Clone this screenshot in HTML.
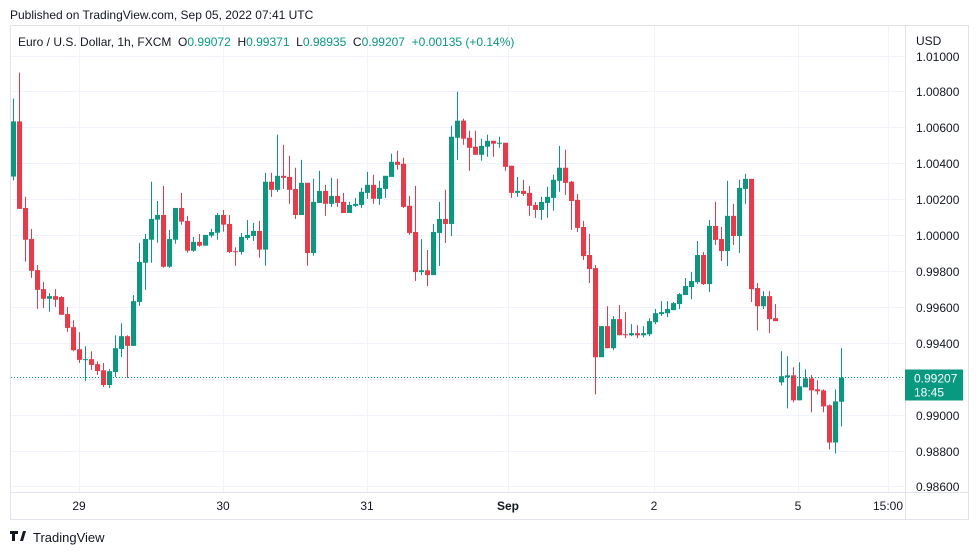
<!DOCTYPE html>
<html><head><meta charset="utf-8"><style>
html,body{margin:0;padding:0;background:#fff;width:979px;height:555px;overflow:hidden;font-family:"Liberation Sans",sans-serif}
svg{position:absolute;left:0;top:0}
</style></head><body>
<svg id="chart" width="979" height="555"></svg>
<script>
const dayLabels=["29","30","31","Sep","2","5","15:00"];
const dayLabelX=[79,223,367,508,654,798,888];
const priceTicks=[1.01,1.008,1.006,1.004,1.002,1.0,0.998,0.996,0.994,0.992,0.990,0.988,0.986];
const opens=[1.00326,1.00633,1.00151,0.99978,0.99805,0.99699,0.99645,0.99660,0.99655,0.99560,0.99487,0.99364,0.99305,0.99309,0.99281,0.99247,0.99165,0.99238,0.99366,0.99437,0.99383,0.99628,0.99846,0.99974,1.00086,1.00112,0.99824,0.99974,1.00151,1.00079,0.99913,0.99962,0.99941,0.99997,1.00013,1.00112,1.00062,0.99910,0.99906,0.99984,0.99995,1.00023,0.99919,1.00297,1.00252,1.00330,1.00324,1.00257,1.00112,1.00291,0.99900,1.00179,1.00246,1.00174,1.00218,1.00185,1.00123,1.00163,1.00168,1.00235,1.00280,1.00202,1.00257,1.00324,1.00408,1.00397,1.00163,1.00017,0.99794,0.99804,0.99777,1.00012,1.00090,1.00062,1.00542,1.00637,1.00542,1.00492,1.00447,1.00492,1.00525,1.00510,1.00514,1.00386,1.00235,1.00246,1.00235,1.00168,1.00140,1.00179,1.00207,1.00302,1.00375,1.00297,1.00196,1.00045,0.99889,0.99816,0.99320,0.99493,0.99370,0.99532,0.99448,0.99442,0.99454,0.99442,0.99448,0.99515,0.99560,0.99565,0.99582,0.99616,0.99666,0.99710,0.99738,0.99889,0.99727,1.00051,0.99978,0.99911,1.00107,0.99995,1.00257,1.00313,0.99705,0.99604,0.99660,0.99537,0.99180,0.99208,0.99219,0.99080,0.99152,0.99202,0.99141,0.99135,0.99052,0.98845,0.99072];
const highs=[1.00760,1.00905,1.00213,1.00034,0.99833,0.99738,0.99677,0.99699,0.99660,0.99600,0.99526,0.99459,0.99381,0.99353,0.99297,0.99288,0.99254,0.99442,0.99509,0.99442,0.99666,0.99956,1.00006,1.00297,1.00190,1.00274,1.00029,1.00151,1.00235,1.00107,0.99990,1.00006,1.00001,1.00034,1.00123,1.00140,1.00112,0.99932,1.00012,1.00084,1.00068,1.00079,1.00347,1.00347,1.00559,1.00503,1.00442,1.00375,1.00419,1.00291,1.00313,1.00358,1.00280,1.00319,1.00313,1.00235,1.00185,1.00207,1.00263,1.00352,1.00336,1.00302,1.00330,1.00453,1.00470,1.00431,1.00218,1.00274,0.99978,0.99917,1.00062,1.00185,1.00252,1.00609,1.00799,1.00648,1.00581,1.00581,1.00537,1.00559,1.00525,1.00548,1.00514,1.00386,1.00324,1.00308,1.00274,1.00185,1.00213,1.00269,1.00336,1.00497,1.00475,1.00302,1.00229,1.00079,1.00006,0.99833,0.99493,0.99604,0.99549,0.99610,0.99571,0.99504,0.99498,0.99493,0.99537,0.99589,0.99632,0.99632,0.99627,0.99677,0.99761,0.99794,0.99967,0.99906,1.00084,1.00185,1.00045,1.00302,1.00174,1.00308,1.00341,1.00313,0.99733,0.99688,0.99688,0.99616,0.99353,0.99325,0.99264,0.99292,0.99253,0.99221,0.99191,0.99141,0.99057,0.99141,0.99371];
const lows=[1.00304,1.00146,0.99852,0.99762,0.99589,0.99595,0.99573,0.99600,0.99556,0.99461,0.99353,0.99288,0.99187,0.99249,0.99221,0.99154,0.99148,0.99210,0.99321,0.99204,0.99383,0.99606,0.99695,0.99846,0.99958,0.99818,0.99818,0.99952,1.00058,0.99902,0.99907,0.99935,0.99941,0.99986,0.99974,1.00019,0.99900,0.99829,0.99891,0.99973,0.99967,0.99874,0.99829,1.00213,1.00241,1.00257,1.00174,1.00090,1.00112,0.99829,0.99885,1.00179,1.00107,1.00157,1.00157,1.00123,1.00123,1.00157,1.00151,1.00202,1.00174,1.00168,1.00207,1.00324,1.00364,1.00151,1.00001,0.99744,0.99777,0.99716,0.99777,0.99828,0.99956,0.99995,1.00419,1.00503,1.00358,1.00447,1.00414,1.00436,1.00436,1.00486,1.00358,1.00207,1.00213,1.00218,1.00107,1.00096,1.00084,1.00096,1.00135,1.00241,1.00224,1.00029,1.00017,0.99861,0.99733,0.99113,0.99320,0.99370,0.99359,0.99442,0.99426,0.99437,0.99426,0.99431,0.99437,0.99504,0.99549,0.99543,0.99582,0.99588,0.99666,0.99643,0.99727,0.99722,0.99683,0.99945,0.99856,0.99828,0.99945,0.99900,1.00174,0.99627,0.99470,0.99588,0.99454,0.99521,0.99163,0.99035,0.99069,0.99080,0.99152,0.99013,0.99113,0.99013,0.98806,0.98784,0.98935];
const closes=[1.00633,1.00146,0.99974,0.99801,0.99695,0.99645,0.99660,0.99640,0.99556,0.99483,0.99359,0.99305,0.99309,0.99277,0.99243,0.99165,0.99242,0.99370,0.99437,0.99383,0.99632,0.99850,0.99978,1.00090,1.00112,0.99824,0.99978,1.00151,1.00075,0.99913,0.99962,0.99941,1.00001,1.00017,1.00112,1.00058,0.99906,0.99906,0.99990,1.00001,1.00023,0.99919,1.00297,1.00252,1.00330,1.00319,1.00252,1.00112,1.00291,0.99900,1.00185,1.00246,1.00174,1.00218,1.00179,1.00123,1.00168,1.00174,1.00241,1.00280,1.00202,1.00263,1.00330,1.00408,1.00391,1.00157,1.00012,0.99794,0.99804,0.99777,1.00017,1.00090,1.00062,1.00548,1.00637,1.00537,1.00486,1.00447,1.00497,1.00525,1.00509,1.00514,1.00380,1.00235,1.00246,1.00229,1.00163,1.00140,1.00185,1.00213,1.00308,1.00375,1.00291,1.00190,1.00040,0.99883,0.99811,0.99320,0.99493,0.99370,0.99532,0.99442,0.99442,0.99454,0.99442,0.99454,0.99521,0.99565,0.99571,0.99588,0.99621,0.99671,0.99716,0.99744,0.99889,0.99727,1.00051,0.99973,0.99911,1.00107,0.99995,1.00263,1.00313,0.99699,0.99604,0.99660,0.99532,0.99521,0.99214,0.99219,0.99080,0.99158,0.99202,0.99135,0.99130,0.99046,0.98845,0.99074,0.99207];
const lastPrice=0.99207;

const NS="http://www.w3.org/2000/svg";
const svg=document.getElementById('chart');
function yOf(p){return 55.5+(1.01-p)*17958;}
function xOf(i){return 13.3+i*6;}
function mk(tag,attrs,parent){const e=document.createElementNS(NS,tag);for(const k in attrs)e.setAttribute(k,attrs[k]);(parent||svg).appendChild(e);return e;}
const green="#089981",red="#f23645",grid="#f0f3fa",txt="#131722";

// frame
const frame=mk('rect',{x:10.5,y:25.5,width:958,height:494,fill:'none',stroke:'#e0e3eb'});



// horizontal grid + price labels
priceTicks.forEach(p=>{
  const y=Math.round(yOf(p))+0.5;
  const g=mk('line',{x1:11,x2:905,y1:y,y2:y,stroke:grid});
  
  
  const t=mk('text',{x:916,y:y+4.5,'font-size':12,fill:txt});
  t.textContent=p.toFixed(5);
  
  
});
// vertical grid + time labels
dayLabels.forEach((d,i)=>{
  const x=dayLabelX[i]+0.5;
  const g=mk('line',{x1:x,x2:x,y1:26,y2:492,stroke:grid});
  
  
  const t=mk('text',{x:dayLabelX[i],y:510,'font-size':12,fill:txt,'text-anchor':'middle','font-weight':d==='Sep'?'bold':'normal'});
  t.textContent=d;
  
  
});
// axis separators
const sepX=mk('line',{x1:905.5,x2:905.5,y1:26,y2:519,stroke:'#e0e3eb'});


const sepY=mk('line',{x1:11,x2:968,y1:492.5,y2:492.5,stroke:'#e0e3eb'});



// candles
opens.forEach((o,i)=>{
  const c=closes[i],h=highs[i],l=lows[i];
  const col=c>=o?green:red;
  const x=xOf(i);
  const g=mk('g',{});
  
  
  mk('rect',{x:Math.round(x),y:yOf(h),width:1,height:Math.max(1,yOf(l)-yOf(h)),fill:col},g);
  const top=yOf(Math.max(o,c)),bot=yOf(Math.min(o,c));
  mk('rect',{x:Math.round(x)-2,y:top,width:5,height:Math.max(1,bot-top),fill:col},g);
});

// last price line & label
const ly=yOf(lastPrice);
const pl=mk('line',{x1:11,x2:905,y1:ly,y2:ly,stroke:green,'stroke-dasharray':'1 2'});


const pb=mk('rect',{x:905,y:ly-8,width:58,height:31,fill:green});


const pt=mk('text',{x:914,y:ly+5,'font-size':12,fill:'#fff'});pt.textContent=lastPrice.toFixed(5);


const ct=mk('text',{x:914,y:ly+19,'font-size':12,fill:'#fff'});ct.textContent="18:45";



// header texts
const h1=mk('text',{x:10,y:19,'font-size':12,fill:txt});h1.textContent="Published on TradingView.com, Sep 05, 2022 07:41 UTC";


const lg=mk('text',{x:18,y:46,'font-size':12,fill:txt});


[["Euro / U.S. Dollar, 1h, FXCM  O",txt],["0.99072",green],["  H",txt],["0.99371",green],["  L",txt],["0.98935",green],["  C",txt],["0.99207",green],["  +0.00135 (+0.14%)",green]].forEach(([s,c])=>{const t=mk('tspan',{fill:c},lg);t.textContent=s;t.setAttribute('xml:space','preserve');});
lg.setAttribute('style','white-space:pre');
const usd=mk('text',{x:916,y:45,'font-size':12,fill:txt});usd.textContent="USD";



// footer logo
const lgG=mk('g',{});


mk('path',{d:'M10 531 h8 v3 h-3 v7 h-3 v-7 h-2 z M20 541 l3 -10 h3 l-3 10 z',fill:txt},lgG);
const ft=mk('text',{x:33,y:542,'font-size':13,fill:txt},lgG);ft.textContent="TradingView";
</script>
</body></html>
